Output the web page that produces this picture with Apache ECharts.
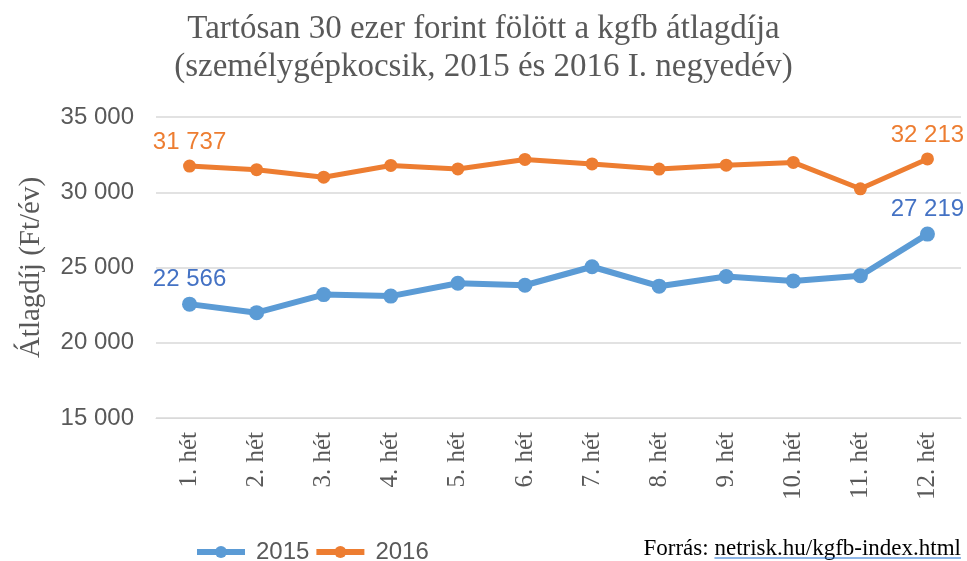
<!DOCTYPE html>
<html>
<head>
<meta charset="utf-8">
<script src="https://cdn.jsdelivr.net/npm/echarts@6/dist/echarts.min.js"></script>
<style>
  html, body { margin: 0; padding: 0; background: #fff; }
  #main { width: 967px; height: 561px; }
</style>
</head>
<body>
<div id="main"></div>
<script>
var weeks = ['1. hét','2. hét','3. hét','4. hét','5. hét','6. hét','7. hét','8. hét','9. hét','10. hét','11. hét','12. hét'];
var avg2015 = [22566, 22000, 23200, 23100, 23950, 23820, 25050, 23760, 24400, 24110, 24450, 27219];
var avg2016 = [31737, 31500, 31000, 31780, 31550, 32180, 31880, 31540, 31800, 31980, 30230, 32213];
var yTicks = [15000, 20000, 25000, 30000, 35000];

function fmt(v) {
    return String(v).replace(/\B(?=(\d{3})+(?!\d))/g, ' ');
}

// csak az első és utolsó pontnál van felirat
function endLabel(p) {
    if (p.dataIndex === 0 || p.dataIndex === weeks.length - 1) {
        return fmt(p.value);
    }
    return '';
}

// a link aláhúzásához kell a szöveg szélessége
var srcFont = '23px "Liberation Serif"';
var linkText = 'netrisk.hu/kgfb-index.html';
var cv = document.createElement('canvas').getContext('2d');
cv.font = srcFont;
var linkW = cv.measureText(linkText).width;

var myChart = echarts.init(document.getElementById('main'));
var option = {
    animation: false,
    title: {
        text: 'Tartósan 30 ezer forint fölött a kgfb átlagdíja\n(személygépkocsik, 2015 és 2016 I. negyedév)',
        left: 'center',
        top: 5,
        textStyle: {
            fontFamily: 'Liberation Serif',
            fontWeight: 'normal',
            fontSize: 33,
            lineHeight: 38,
            color: '#595959'
        }
    },
    legend: {
        left: 189,
        top: 535,
        itemWidth: 48,
        itemHeight: 15,
        itemGap: 4,
        lineStyle: { width: 6 },
        textStyle: {
            fontFamily: 'Liberation Sans',
            fontSize: 24,
            color: '#595959',
            padding: [0, 0, 0, 6]
        },
        data: ['2015', '2016']
    },
    grid: {
        left: 156,
        right: 6,
        top: 117,
        bottom: 143
    },
    xAxis: {
        type: 'category',
        data: weeks,
        axisLine: { lineStyle: { color: '#D9D9D9' } },
        axisTick: { show: false },
        axisLabel: {
            rotate: 90,
            margin: 14,
            fontFamily: 'Liberation Serif',
            fontSize: 25,
            color: '#595959'
        }
    },
    yAxis: {
        type: 'value',
        min: yTicks[0],
        max: yTicks[yTicks.length - 1],
        interval: 5000,
        name: 'Átlagdíj (Ft/év)',
        nameLocation: 'middle',
        nameGap: 110,
        nameTextStyle: {
            fontFamily: 'Liberation Serif',
            fontSize: 29,
            color: '#595959'
        },
        axisLine: { show: false },
        axisTick: { show: false },
        splitLine: { lineStyle: { color: '#D9D9D9', width: 1.5 } },
        axisLabel: {
            margin: 22,
            fontFamily: 'Liberation Sans',
            fontSize: 24,
            color: '#595959',
            formatter: fmt
        }
    },
    series: [
        {
            name: '2015',
            type: 'line',
            data: avg2015,
            symbol: 'circle',
            symbolSize: 15,
            itemStyle: { color: '#5B9BD5' },
            lineStyle: { color: '#5B9BD5', width: 6 },
            label: {
                show: true,
                position: 'top',
                distance: 5,
                formatter: endLabel,
                fontFamily: 'Liberation Sans',
                fontSize: 24,
                color: '#4472C4'
            }
        },
        {
            name: '2016',
            type: 'line',
            data: avg2016,
            symbol: 'circle',
            symbolSize: 13,
            itemStyle: { color: '#ED7D31' },
            lineStyle: { color: '#ED7D31', width: 5 },
            label: {
                show: true,
                position: 'top',
                distance: 5,
                formatter: endLabel,
                fontFamily: 'Liberation Sans',
                fontSize: 24,
                color: '#ED7D31'
            }
        }
    ],
    graphic: [
        {
            type: 'text',
            right: 6,
            bottom: 1,
            style: {
                text: '{a|Forrás: }{b|' + linkText + '}',
                rich: {
                    a: { fontFamily: 'Liberation Serif', fontSize: 23, color: '#000000' },
                    b: { fontFamily: 'Liberation Serif', fontSize: 23, color: '#1F6FD0' }
                }
            }
        },
        {
            type: 'line',
            shape: { x1: 961 - linkW, y1: 558, x2: 961, y2: 558 },
            style: { stroke: '#1F6FD0', lineWidth: 1 }
        }
    ]
};
myChart.setOption(option);
</script>
</body>
</html>
